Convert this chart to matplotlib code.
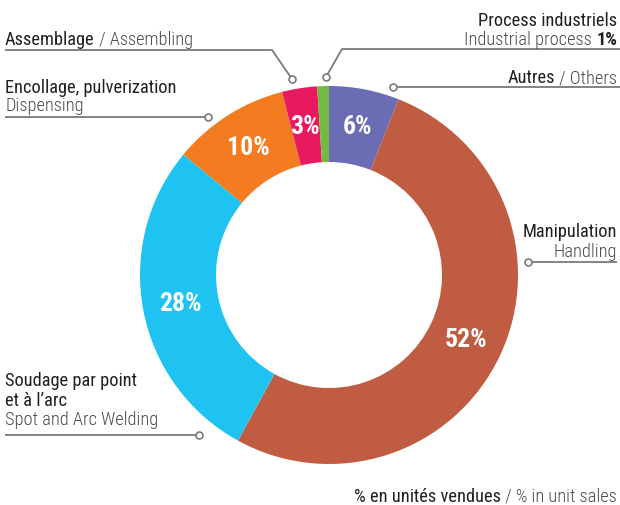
import matplotlib.pyplot as plt

W, H = 620, 506

labels = ['Autres', 'Manipulation', 'Soudage', 'Encollage', 'Assemblage', 'Process industriels']
shares = [6, 52, 28, 10, 3, 1]
colors = ['#6a6cb4', '#c05c42', '#1fc3f1', '#f47c20', '#e8195e', '#74b944']

plt.rcParams['font.family'] = ['Roboto Condensed', 'Roboto', 'DejaVu Sans']

DARK = '#231f20'
GREY = '#4a4a4a'
LINE = '#7a7a7a'
FS = 13.2


def y(v):
    # pixel row (from top) -> data y (from bottom)
    return H - v


fig = plt.figure(figsize=(W / 100, H / 100), dpi=100)
ax = fig.add_axes([0, 0, 1, 1])

ax.pie(shares, colors=colors, startangle=90, counterclock=False,
       center=(329, y(276)), radius=189,
       wedgeprops=dict(width=76, linewidth=0),
       autopct=lambda p: f'{p:.0f}%' if p > 2 else '', pctdistance=0.8,
       textprops=dict(color='white', fontsize=18.5, fontweight='bold'))
ax.set_xlim(0, W)
ax.set_ylim(0, H)
ax.set_aspect('equal')
ax.axis('off')

# leader lines (first point = small circle next to the ring)
leaders = [
    [(326, 78), (342, 50), (620, 50)],     # process
    [(393, 88), (620, 88)],                # autres
    [(528, 263), (617, 263)],              # manipulation
    [(199, 436), (5, 436)],                # soudage
    [(208, 118), (5, 118)],                # encollage
    [(292, 80), (272, 51), (5, 51)],       # assemblage
]
for pts in leaders:
    xs = [p[0] for p in pts]
    ys = [y(p[1]) for p in pts]
    ax.plot(xs, ys, color=LINE, lw=1.3, solid_capstyle='butt', zorder=3)
    ax.plot(xs[0], ys[0], 'o', ms=5, mfc='white', mec=LINE, mew=1.2, zorder=4)


def left_text(x, yy, parts):
    t = ax.text(x, y(yy), parts[0][0], color=parts[0][1], fontsize=FS,
                fontweight=parts[0][2], ha='left', va='baseline')
    for s, c, w in parts[1:]:
        t = ax.annotate(s, xy=(1, 0), xycoords=t, color=c, fontsize=FS,
                        fontweight=w, ha='left', va='bottom')


def right_text(x, yy, parts):
    s, c, w = parts[-1]
    t = ax.text(x, y(yy), s, color=c, fontsize=FS, fontweight=w,
                ha='right', va='baseline')
    for s, c, w in reversed(parts[:-1]):
        t = ax.annotate(s, xy=(0, 0), xycoords=t, color=c, fontsize=FS,
                        fontweight=w, ha='right', va='bottom')


R = 'normal'
L = 'light'
B = 'bold'

left_text(5, 45, [('Assemblage', DARK, R), (' / Assembling', GREY, L)])
left_text(5, 93, [('Encollage, pulverization', DARK, R)])
left_text(5, 111, [('Dispensing', GREY, L)])
left_text(5, 386, [('Soudage par point', DARK, R)])
left_text(5, 405.5, [('et à l’arc', DARK, R)])
left_text(5, 425, [('Spot and Arc Welding', GREY, L)])

right_text(617, 26, [('Process industriels', DARK, R)])
right_text(617, 45, [('Industrial process ', GREY, L), ('1%', DARK, B)])
right_text(617, 83, [('Autres', DARK, R), (' / Others', GREY, L)])
right_text(617, 237, [('Manipulation', DARK, R)])
right_text(617, 257, [('Handling', GREY, L)])
right_text(617, 502, [('% en unités vendues', DARK, R), (' / % in unit sales', GREY, L)])

fig.savefig('out.png', dpi=100)
